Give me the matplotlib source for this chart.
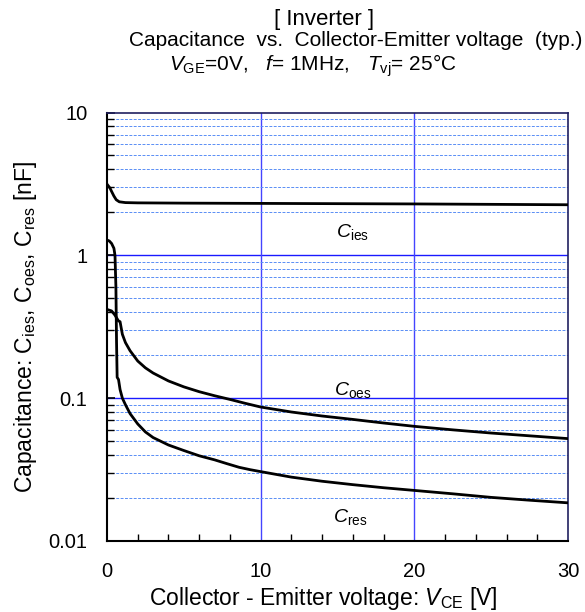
# capacitance vs collector-emitter voltage, inverter IGBT

import numpy as np
import matplotlib.pyplot as plt
from matplotlib.ticker import FixedLocator, MultipleLocator, NullFormatter

plt.rcParams['font.family'] = ['Liberation Sans', 'DejaVu Sans']
plt.rcParams['mathtext.fontset'] = 'custom'
plt.rcParams['mathtext.rm'] = 'Liberation Sans'
plt.rcParams['mathtext.it'] = 'Liberation Sans:italic'

# curves, VCE in V, C in nF
v_ies = [0, 0.1, 0.2, 0.3, 0.45, 0.6, 0.8, 1.2, 2, 5, 10, 20, 30]
c_ies = [3.15, 3.05, 2.95, 2.8, 2.6, 2.45, 2.37, 2.34, 2.33, 2.32, 2.31, 2.29, 2.26]

v_oes = [0, 0.3, 0.52, 0.74, 0.85, 1.0, 1.2, 1.5, 2, 2.5, 3, 4, 5, 6, 7, 8, 9,
         10, 12, 14, 16, 18, 20, 22.5, 25, 27.5, 30]
c_oes = [0.418, 0.408, 0.381, 0.348, 0.343, 0.28, 0.245, 0.215, 0.182, 0.163,
         0.15, 0.132, 0.12, 0.111, 0.104, 0.098, 0.092, 0.0867, 0.08, 0.075,
         0.071, 0.067, 0.0635, 0.06, 0.057, 0.0545, 0.0521]

v_res = [0, 0.15, 0.3, 0.45, 0.52, 0.58, 0.62, 0.66, 0.75, 0.85, 1.0, 1.2, 1.5,
         2, 2.5, 3, 4, 5, 6, 7, 7.8, 8.6, 9.3, 10, 12, 14, 16, 18, 20, 22.5, 25,
         27.5, 30]
c_res = [1.28, 1.26, 1.21, 1.12, 1.0, 0.6, 0.25, 0.14, 0.135, 0.115, 0.1, 0.09,
         0.078, 0.066, 0.058, 0.053, 0.047, 0.043, 0.0395, 0.037, 0.0348, 0.0328,
         0.0316, 0.0306, 0.028, 0.0262, 0.0248, 0.0236, 0.0226, 0.0214, 0.0202,
         0.0193, 0.0185]

fig = plt.figure(figsize=(5.85, 6.12), dpi=100)
ax = fig.add_axes([107/585, 1-541/612, 461/585, 428.5/612])

ax.set_yscale('log')
ax.set_xlim(0, 30)
ax.set_ylim(0.01, 10)

# grid: solid blue at decades and every 10 V, dashed light blue in between
for y in [0.1, 1]:
    ax.axhline(y, color='#1a1aff', lw=1.0, zorder=1)
for x in [10, 20]:
    ax.axvline(x, color='#4444ff', lw=1.0, zorder=1)
minor_y = [m * 10.0**e for e in (-2, -1, 0) for m in range(2, 10)]
for y in minor_y:
    ax.axhline(y, color='#5a8ef5', lw=0.7, ls=(0, (3, 1.5)), zorder=1)

ax.plot(v_ies, c_ies, color='black', lw=2, zorder=3)
ax.plot(v_oes, c_oes, color='black', lw=2, zorder=3)
ax.plot(v_res, c_res, color='black', lw=2, zorder=3)

ax.text(16.0, 1.45, r'$C_{\rm ies}$', fontsize=14, ha='center', va='center')
ax.text(16.0, 0.114, r'$C_{\rm oes}$', fontsize=14, ha='center', va='center')
ax.text(15.8, 0.0148, r'$C_{\rm res}$', fontsize=14, ha='center', va='center')

# ticks
ax.xaxis.set_major_locator(FixedLocator([0, 10, 20, 30]))
ax.xaxis.set_minor_locator(MultipleLocator(2))
ax.yaxis.set_major_locator(FixedLocator([0.01, 0.1, 1, 10]))
ax.yaxis.set_minor_locator(FixedLocator(minor_y))
ax.yaxis.set_minor_formatter(NullFormatter())
ax.set_yticklabels(['0.01', '0.1', '1', '10'])
ax.tick_params(axis='both', which='both', direction='in', labelsize=14.5,
               top=False, right=False, color='black')
ax.tick_params(axis='y', which='major', length=6, width=1.2, pad=14)
ax.tick_params(axis='y', which='minor', length=5, width=1.0)
ax.tick_params(axis='x', which='major', length=0, pad=15)
ax.tick_params(axis='x', which='minor', length=5, width=1.0)

for side in ['left', 'bottom']:
    ax.spines[side].set_color('black')
    ax.spines[side].set_linewidth(1.5)
for side in ['top', 'right']:
    ax.spines[side].set_color('#202060')
    ax.spines[side].set_linewidth(1.2)

ax.set_xlabel(r'Collector - Emitter voltage: $V_{\rm CE}$ [V]', fontsize=16.5,
              labelpad=3)
ax.xaxis.label.set_x(0.47)
ax.set_ylabel(r'Capacitance: C$_{\rm ies}$, C$_{\rm oes}$, C$_{\rm res}$ [nF]',
              fontsize=16.5, labelpad=7)

fig.text(324/585, 1-19/612, '[ Inverter ]', fontsize=16, ha='center', va='center')
fig.text(356/585, 1-41/612, 'Capacitance  vs.  Collector-Emitter voltage  (typ.)',
         fontsize=15, ha='center', va='center')
fig.text(313/585, 1-66/612,
         r'$V_{\rm GE}$=0V,   $f$= 1MHz,   $T_{\rm vj}$= 25°C',
         fontsize=15, ha='center', va='center')

fig.savefig('out.png', dpi=100)
